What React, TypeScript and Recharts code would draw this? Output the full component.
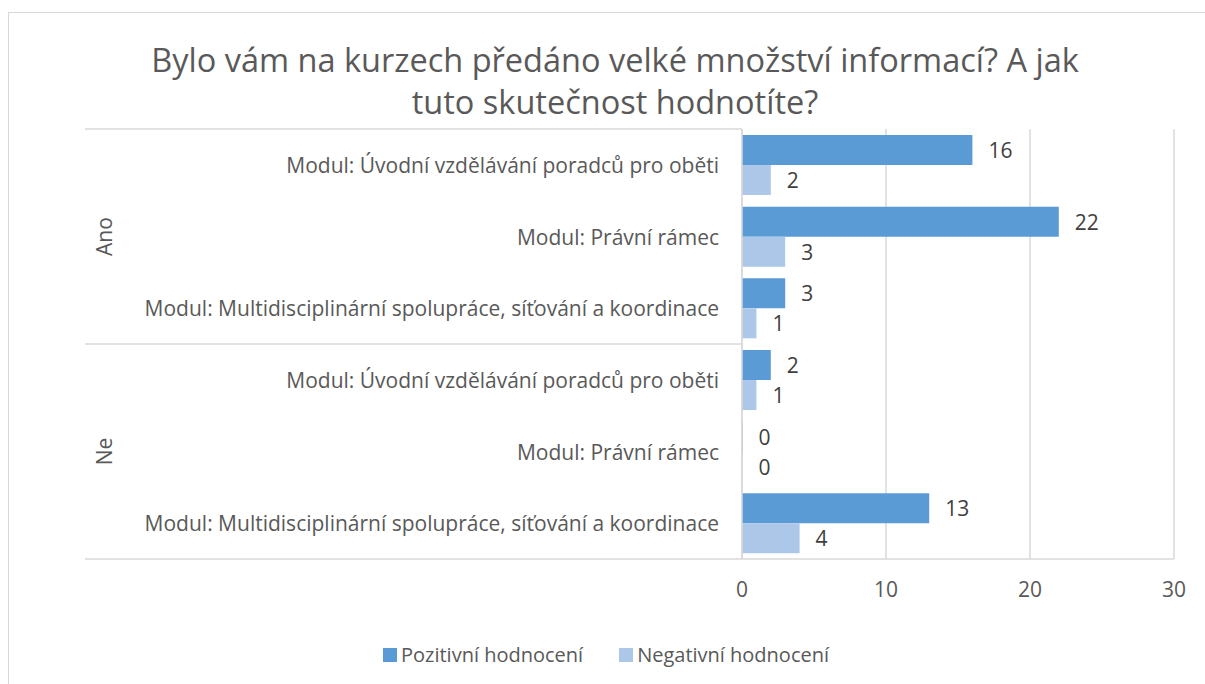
import { Bar, BarChart, CartesianGrid, LabelList, XAxis, YAxis } from 'recharts'

const groups = ['Ano', 'Ne']
const modules = [
  'Modul: Úvodní vzdělávání poradců pro oběti',
  'Modul: Právní rámec',
  'Modul: Multidisciplinární spolupráce, síťování a koordinace',
]
const positive = [16, 22, 3, 2, 0, 13]
const negative = [2, 3, 1, 1, 0, 4]
const seriesNames = ['Pozitivní hodnocení', 'Negativní hodnocení']
const seriesColors = ['#5B9BD5', '#ADC7E8']
const xTicks = [0, 10, 20, 30]
const titleLines = ['Bylo vám na kurzech předáno velké množství informací? A jak', 'tuto skutečnost hodnotíte?']

const W = 1205
const H = 684
const PLOT_TOP = 129
const PLOT_BOTTOM = 559
const PLOT_LEFT = 742
const PLOT_RIGHT = 1174
const LABEL_LEFT = 85
const X_AXIS_H = 40
const FONT = '"Open Sans", sans-serif'
const GRID = '#D9D9D9'
const TEXT = '#595959'
const FS = 21

const data = groups.flatMap((g, gi) =>
  modules.map((m, mi) => ({
    key: `${g}|${m}`,
    group: g,
    module: m,
    pos: positive[gi * modules.length + mi],
    neg: negative[gi * modules.length + mi],
  })),
)

const BAND = (PLOT_BOTTOM - PLOT_TOP) / data.length

function CategoryTick(props: any) {
  const { y, index } = props
  const row = data[index]
  if (!row) return null
  const inGroup = index % modules.length
  return (
    <g>
      {inGroup === 0 && (
        <line x1={LABEL_LEFT} x2={PLOT_LEFT} y1={y - BAND / 2} y2={y - BAND / 2} stroke={GRID} strokeWidth={1.5} />
      )}
      {index === data.length - 1 && (
        <line x1={LABEL_LEFT} x2={PLOT_LEFT} y1={y + BAND / 2} y2={y + BAND / 2} stroke={GRID} strokeWidth={1.5} />
      )}
      <text x={PLOT_LEFT - 23} y={y} textAnchor="end" dominantBaseline="central" fill={TEXT} fontSize={FS} fontFamily={FONT}>
        {row.module}
      </text>
      {inGroup === 1 && (
        <text
          x={104}
          y={y}
          textAnchor="middle"
          dominantBaseline="central"
          fill={TEXT}
          fontSize={FS}
          fontFamily={FONT}
          transform={`rotate(-90 104 ${y})`}
        >
          {row.group}
        </text>
      )}
    </g>
  )
}

function ValueLabel(props: any) {
  const { x, y, width, height, value } = props
  return (
    <text
      x={Number(x) + Number(width || 0) + 16}
      y={Number(y) + Number(height) / 2}
      dominantBaseline="central"
      fill="#404040"
      fontSize={FS}
      fontFamily={FONT}
    >
      {String(value)}
    </text>
  )
}

export default function App() {
  return (
    <div style={{ position: 'absolute', left: 0, top: 0, width: W, height: H, overflow: 'hidden', background: '#fff', fontFamily: FONT }}>
      <div style={{ position: 'absolute', left: 8, top: 12, width: W, height: H, border: `1.5px solid ${GRID}` }} />
      <div style={{ position: 'absolute', left: 0, top: 39, width: 1230, textAlign: 'center', color: TEXT, fontSize: 32.5, lineHeight: '42px' }}>
        {titleLines.map((t) => (
          <div key={t}>{t}</div>
        ))}
      </div>
      <div style={{ position: 'absolute', left: 0, top: 0 }}>
        <BarChart
          width={W}
          height={H}
          data={data}
          layout="vertical"
          margin={{ top: PLOT_TOP, bottom: H - PLOT_BOTTOM - X_AXIS_H, left: LABEL_LEFT, right: W - PLOT_RIGHT }}
          barCategoryGap={6}
          barGap={0}
        >
          <CartesianGrid horizontal={false} stroke={GRID} strokeWidth={1.5} />
          <XAxis
            type="number"
            domain={[0, 30]}
            ticks={xTicks}
            height={X_AXIS_H}
            axisLine={{ stroke: GRID, strokeWidth: 1.5 }}
            tickLine={false}
            tickMargin={17}
            tick={{ fill: TEXT, fontSize: FS, fontFamily: FONT }}
          />
          <YAxis
            type="category"
            dataKey="key"
            width={PLOT_LEFT - LABEL_LEFT}
            axisLine={{ stroke: GRID, strokeWidth: 1.5 }}
            tickLine={false}
            interval={0}
            tick={<CategoryTick />}
          />
          <Bar dataKey="pos" name={seriesNames[0]} fill={seriesColors[0]} minPointSize={0.5} isAnimationActive={false}>
            <LabelList dataKey="pos" content={ValueLabel} />
          </Bar>
          <Bar dataKey="neg" name={seriesNames[1]} fill={seriesColors[1]} minPointSize={0.5} isAnimationActive={false}>
            <LabelList dataKey="neg" content={ValueLabel} />
          </Bar>
        </BarChart>
      </div>
      <div style={{ position: 'absolute', left: 383, top: 641, display: 'flex', alignItems: 'center', color: TEXT, fontSize: 20, lineHeight: '28px' }}>
        {seriesNames.map((n, i) => (
          <div key={n} style={{ display: 'flex', alignItems: 'center', marginRight: 36 }}>
            <span style={{ width: 14, height: 14, background: seriesColors[i], marginRight: 4, display: 'inline-block' }} />
            <span>{n}</span>
          </div>
        ))}
      </div>
    </div>
  )
}
